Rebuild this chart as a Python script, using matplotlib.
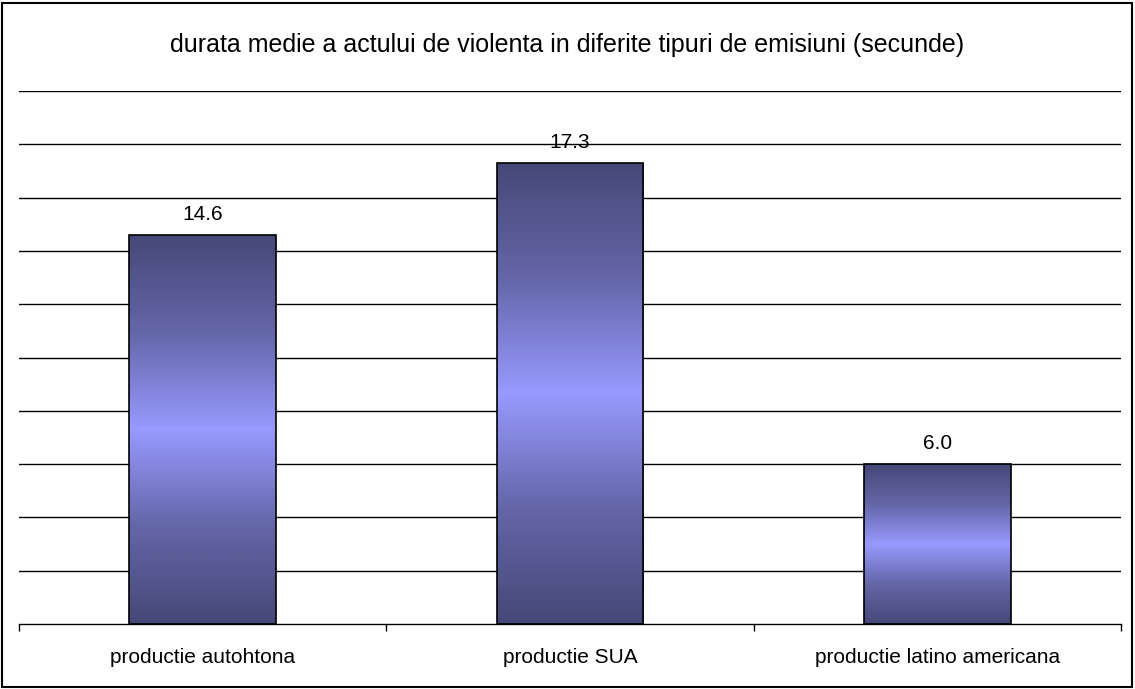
import numpy as np
import matplotlib
matplotlib.use("Agg")
import matplotlib.pyplot as plt
from matplotlib.colors import LinearSegmentedColormap
from matplotlib.patches import Rectangle

plt.rcParams['font.family'] = ['Liberation Sans', 'DejaVu Sans']

title = "durata medie a actului de violenta in diferite tipuri de emisiuni (secunde)"
categories = ["productie autohtona", "productie SUA", "productie latino americana"]
values = [14.6, 17.3, 6.0]
grid_values = [2, 4, 6, 8, 10, 12, 14, 16, 18, 20]

fig = plt.figure(figsize=(11.35, 6.89), dpi=100)
ax = fig.add_axes([19 / 1135, 1 - 624 / 689, (1121 - 19) / 1135, (624 - 91) / 689])

# outer chart border
fig.patches.append(Rectangle((2 / 1135, 2 / 689), 1 - 5 / 1135, 1 - 5 / 689,
                             transform=fig.transFigure, fill=False,
                             edgecolor="black", linewidth=1.5))

cmap = LinearSegmentedColormap.from_list("bar", ["#464878", "#6466a8", "#9999ff", "#6466a8", "#464878"])
grad = np.linspace(0, 1, 256).reshape(-1, 1)

x = np.arange(len(categories))
width = 0.4
for xi, v in zip(x, values):
    rect = Rectangle((xi - width / 2, 0), width, v, facecolor="none",
                     edgecolor="black", linewidth=1.2, zorder=3)
    ax.add_patch(rect)
    img = ax.imshow(grad, extent=(xi - width / 2, xi + width / 2, 0, v),
                    aspect="auto", cmap=cmap, origin="lower", zorder=2)
    img.set_clip_path(rect)
    ax.text(xi, v + 0.56, f"{v:.1f}", ha="center", va="baseline", fontsize=15, zorder=4)

for g in grid_values:
    ax.axhline(g, color="black", linewidth=1, zorder=1)

ax.set_xlim(-0.5, len(categories) - 0.5)
ax.set_ylim(0, 20)
ax.set_yticks([])
for s in ["top", "left", "right"]:
    ax.spines[s].set_visible(False)
ax.spines["bottom"].set_linewidth(1)

ax.set_xticks(x)
ax.set_xticklabels(categories, fontsize=15)
ax.tick_params(axis="x", which="major", length=0, pad=17)
ax.set_xticks(np.arange(len(categories) + 1) - 0.5, minor=True)
ax.tick_params(axis="x", which="minor", length=5, width=1, direction="out")

fig.text(0.5, 1 - 45 / 689, title, ha="center", va="center", fontsize=18)

fig.savefig("out.png", dpi=100)
